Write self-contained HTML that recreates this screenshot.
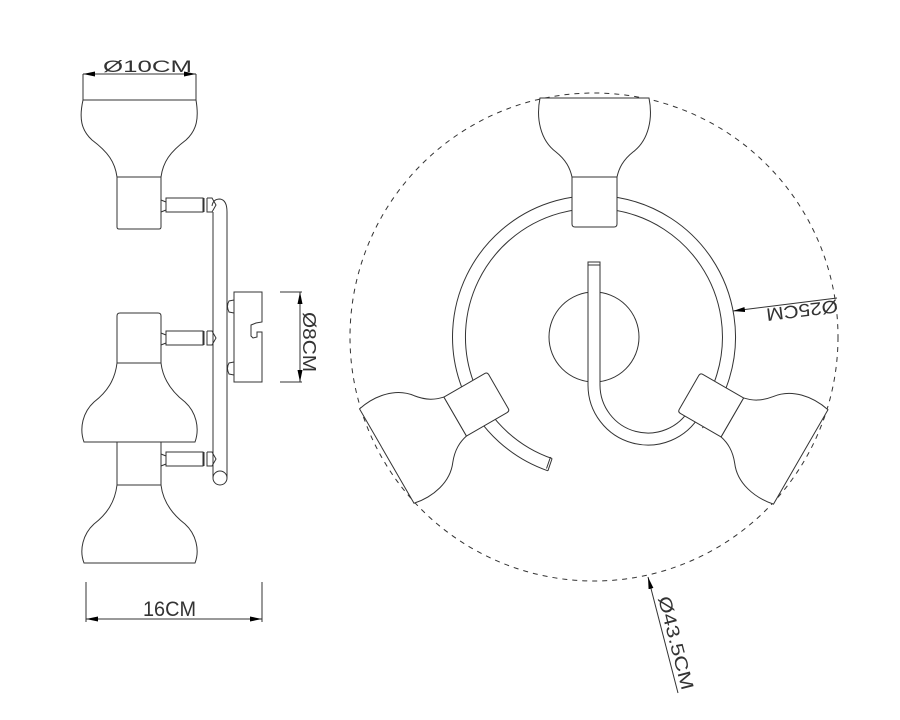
<!DOCTYPE html>
<html><head><meta charset="utf-8"><style>
html,body{margin:0;padding:0;background:#fff;}
svg{display:block;}
text{font-family:"Liberation Sans",sans-serif;fill:#333;}
</style></head><body>
<svg width="900" height="720" viewBox="0 0 900 720" xmlns="http://www.w3.org/2000/svg">
<defs>
<marker id="ar" viewBox="0 0 12 6" refX="12" refY="3" markerWidth="12" markerHeight="6" markerUnits="userSpaceOnUse" orient="auto-start-reverse"><path d="M0,0.5 L12,3 L0,5.5 Z" fill="#000"/></marker>
<g id="lamp">
<path d="M540,98 C536,118 540,140 556,152 C566,160 570,168 572,177 L617,177 C619,168 623,160 633,152 C649,140 653,118 649,98 Z" fill="#fff" stroke="#333" stroke-width="1"/>
<path d="M572,177 L617,177 L617,224 Q617,227 614,227 L575,227 Q572,227 572,224 Z" fill="#fff" stroke="#333" stroke-width="1"/>
</g>
</defs>
<g fill="none" stroke="#333" stroke-width="1">
<line x1="83" y1="74" x2="83" y2="100"/><line x1="196" y1="74" x2="196" y2="100"/>
<line x1="83" y1="74" x2="196" y2="74" marker-start="url(#ar)" marker-end="url(#ar)"/>
<path d="M83,100 L196,100 C199,118 197,130 186,140 C170,152 163,162 161,177 L117,177 C115,162 108,152 92,140 C81,130 79,118 83,100 Z"/>
<path d="M117,177 L161,177 L161,227 Q161,229 159,229 L119,229 Q117,229 117,227 Z"/>
<path d="M213,212 L213,478 M227,212 Q227,200 220,199 Q213,199 212,206 M227,212 L227,478"/>
<circle cx="220" cy="478" r="7"/>
<g id="arm1"><path d="M161,200 L166,202 L166,210 L161,212 M166,198 L203,198 L203,212 L166,212 Z M204,198 L204,212 M207,198 L207,212 L212,212 L216,205 L212,198 L207,198"/></g>
<use href="#arm1" y="133"/>
<use href="#arm1" y="254"/>
<path d="M234,292 L262,292 L262,322 L256,323 L251,325 L251,336 L253,338 L257,337 L257,332 L262,332 L262,382 L234,382 Z"/>
<path d="M234,300 L229,301 Q226,306 229,312 L234,313 M234,362 L229,363 Q226,368 229,374 L234,375"/>
<line x1="280" y1="292" x2="302" y2="292"/><line x1="280" y1="382" x2="302" y2="382"/>
<line x1="300" y1="292" x2="300" y2="382" marker-start="url(#ar)" marker-end="url(#ar)"/>
<path d="M117,363 L117,316 Q117,313 120,313 L158,313 Q161,313 161,316 L161,363"/>
<path d="M117,363 L161,363 C163,380 172,392 185,402 C196,412 200,428 195,442 L84,442 C79,428 83,412 94,402 C107,392 115,380 117,363 Z"/>
<path d="M117,442 L117,485 M161,442 L161,485"/>
<path d="M117,485 L161,485 C163,502 172,514 185,524 C196,534 200,550 195,563 L84,563 C79,550 83,534 94,524 C107,514 115,502 117,485 Z"/>
<line x1="86" y1="582" x2="86" y2="622"/><line x1="262" y1="582" x2="262" y2="622"/>
<line x1="86" y1="619" x2="262" y2="619" marker-start="url(#ar)" marker-end="url(#ar)"/>

<circle cx="594" cy="337" r="244" stroke-dasharray="5,5"/>
<circle cx="594" cy="337" r="45"/>
<path d="M547.9,470.8 A141.5,141.5 0 1 1 702.4,428 M552.1,458.5 A128.5,128.5 0 1 1 692.4,419.6 M547.9,470.8 L552.1,458.5 M546.5,468.5 L550.5,457"/>
<path d="M588,262 L588,385 A60,60 0 0 0 700,415 L689.6,409 A48,48 0 0 1 600,385 L600,262 Z" fill="#fff"/>
<line x1="588" y1="265" x2="600" y2="265"/>
</g>
<use href="#lamp"/>
<use href="#lamp" transform="rotate(-120 594 337)"/>
<use href="#lamp" transform="rotate(120 594 337)"/>
<g fill="none" stroke="#333" stroke-width="1">
<line x1="837" y1="298" x2="733" y2="311" marker-end="url(#ar)"/>
<line x1="678" y1="693" x2="648" y2="577" marker-end="url(#ar)"/>
</g>
<text x="103" y="72" font-size="17" textLength="89" lengthAdjust="spacingAndGlyphs">Ø10CM</text>
<text x="143" y="616" font-size="21" textLength="53" lengthAdjust="spacingAndGlyphs">16CM</text>
<text transform="translate(303,312) rotate(90)" font-size="18" textLength="60" lengthAdjust="spacingAndGlyphs">Ø8CM</text>
<text transform="translate(837,300) rotate(173)" font-size="18" textLength="72" lengthAdjust="spacingAndGlyphs">Ø25CM</text>
<text transform="translate(658,598) rotate(75.5)" font-size="18" textLength="96" lengthAdjust="spacingAndGlyphs">Ø43.5CM</text>
</svg>
</body></html>
